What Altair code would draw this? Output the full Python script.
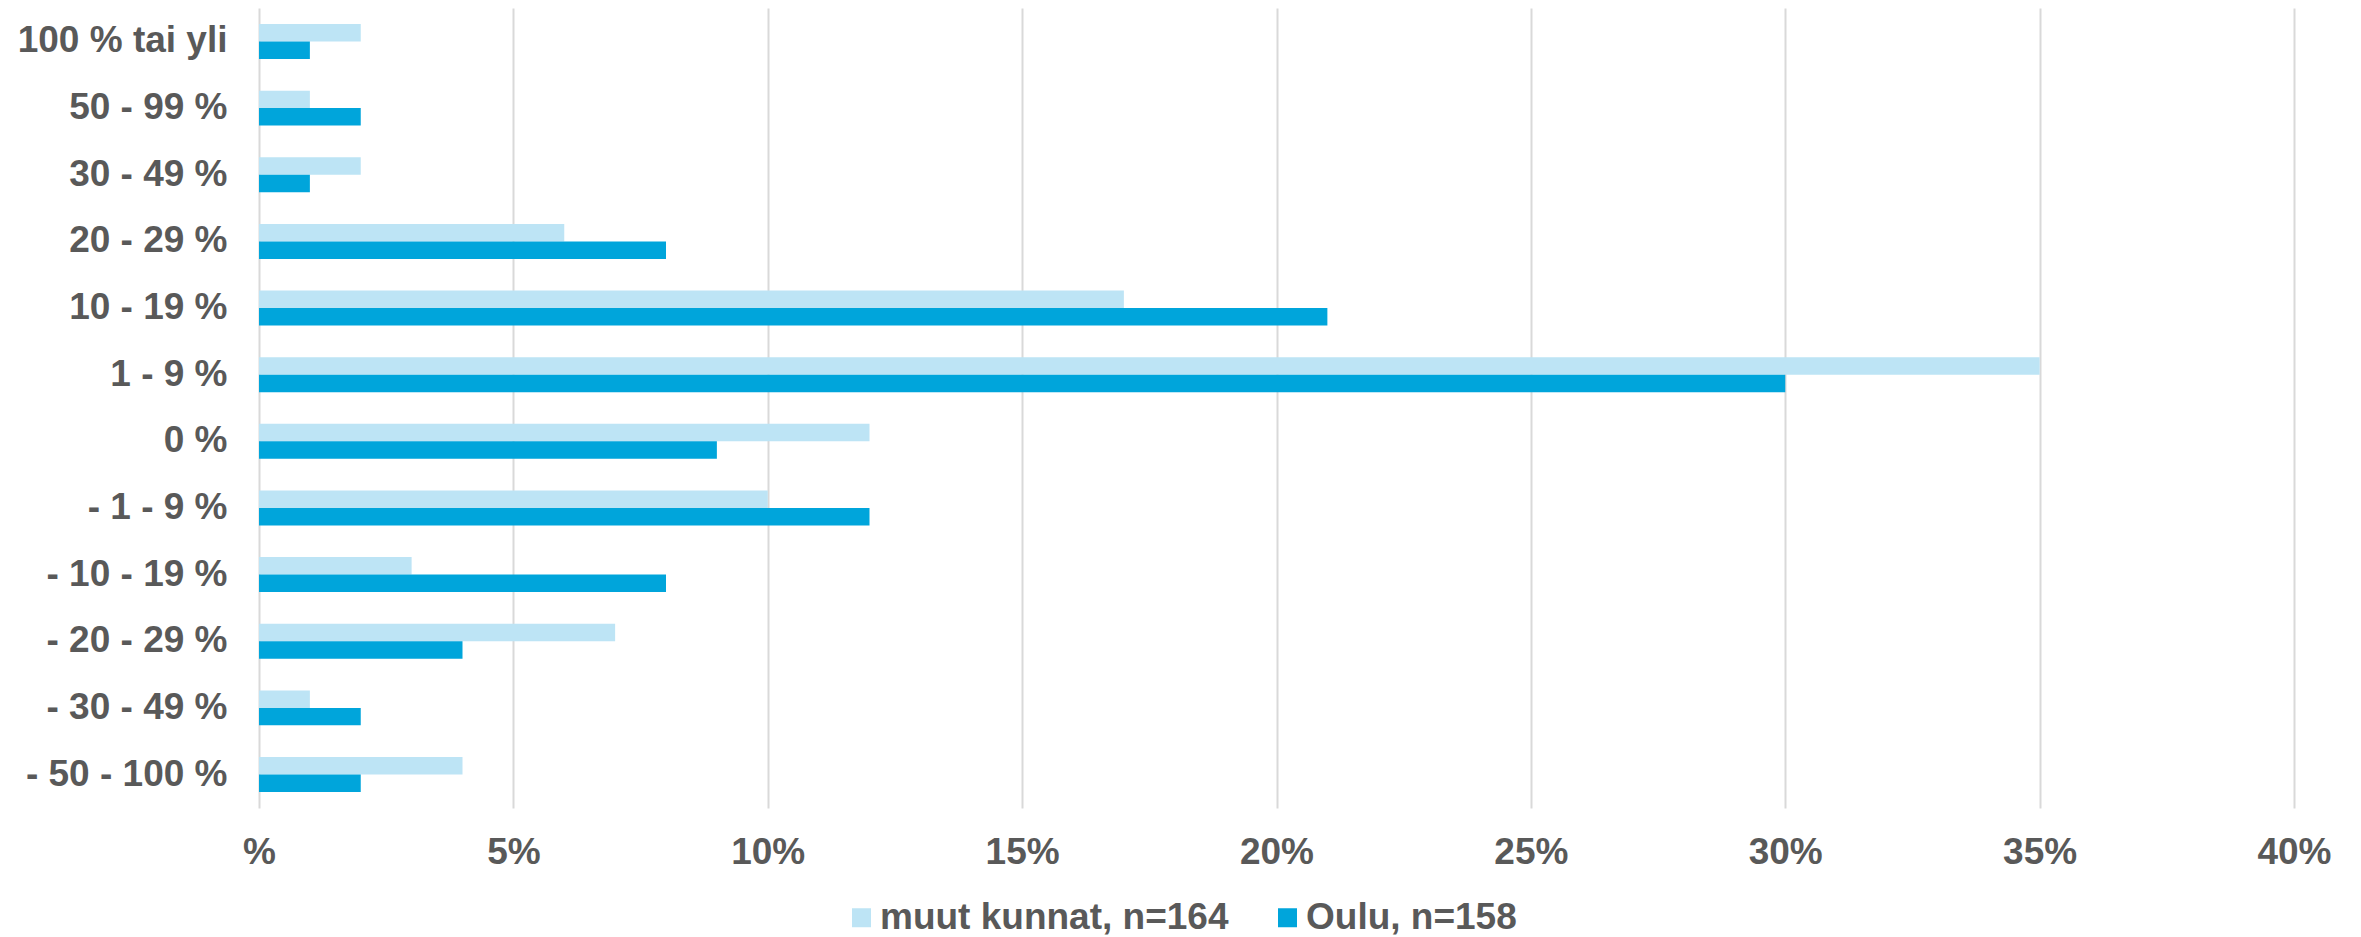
import altair as alt
import pandas as pd

categories = [
    "100 % tai yli", "50 - 99 %", "30 - 49 %", "20 - 29 %", "10 - 19 %",
    "1 - 9 %", "0 %", "- 1 - 9 %", "- 10 - 19 %", "- 20 - 29 %",
    "- 30 - 49 %", "- 50 - 100 %",
]
series_names = ["muut kunnat, n=164", "Oulu, n=158"]
muut_values = [2, 1, 2, 6, 17, 35, 12, 10, 3, 7, 1, 4]
oulu_values = [1, 2, 1, 8, 21, 30, 9, 12, 8, 4, 2, 2]
x_ticks = [0, 5, 10, 15, 20, 25, 30, 35, 40]
colors = ["#BDE4F5", "#00A5DB"]

rows = []
for c, m, o in zip(categories, muut_values, oulu_values):
    rows.append({"cat": c, "series": series_names[0], "value": m})
    rows.append({"cat": c, "series": series_names[1], "value": o})
df = pd.DataFrame(rows)

FONT = "Liberation Sans"
TXT = "#595959"

chart = alt.Chart(df).mark_bar().encode(
    x=alt.X("value:Q",
            scale=alt.Scale(domain=[0, 40], nice=False, zero=True),
            axis=alt.Axis(values=x_ticks, title=None, ticks=False, domain=False,
                          grid=True, gridColor="#D9D9D9", gridWidth=2,
                          labelFont=FONT, labelFontSize=37, labelFontWeight="bold",
                          labelColor=TXT, labelPadding=26, labelLimit=0,
                          labelFlush=False,
                          labelExpr="datum.value == 0 ? '%' : datum.value + '%'")),
    y=alt.Y("cat:N", sort=categories,
            scale=alt.Scale(paddingInner=0.475, paddingOuter=0.24),
            axis=alt.Axis(title=None, ticks=False, domain=False, grid=False,
                          labelFont=FONT, labelFontSize=37, labelFontWeight="bold",
                          labelColor=TXT, labelPadding=32, labelAlign="right",
                          labelLimit=0)),
    yOffset=alt.YOffset("series:N", sort=series_names,
                        scale=alt.Scale(paddingInner=0, paddingOuter=0)),
    color=alt.Color("series:N", sort=series_names,
                    scale=alt.Scale(domain=series_names, range=colors),
                    legend=alt.Legend(title=None, orient="none", direction="horizontal",
                                      legendX=584, legendY=891,
                                      symbolType="square", symbolSize=361,
                                      symbolStrokeWidth=0,
                                      labelFont=FONT, labelFontSize=37,
                                      labelFontWeight="bold", labelColor=TXT,
                                      labelLimit=0,
                                      labelOffset=0, columnPadding=40, padding=0)),
).properties(
    width=2035,
    height=800,
    padding={"left": 251, "top": 0, "right": 59, "bottom": 150},
    autosize=alt.AutoSizeParams(type="none"),
).configure_view(stroke=None)

chart.save("out.html", embed_options={"renderer": "svg", "actions": False})
